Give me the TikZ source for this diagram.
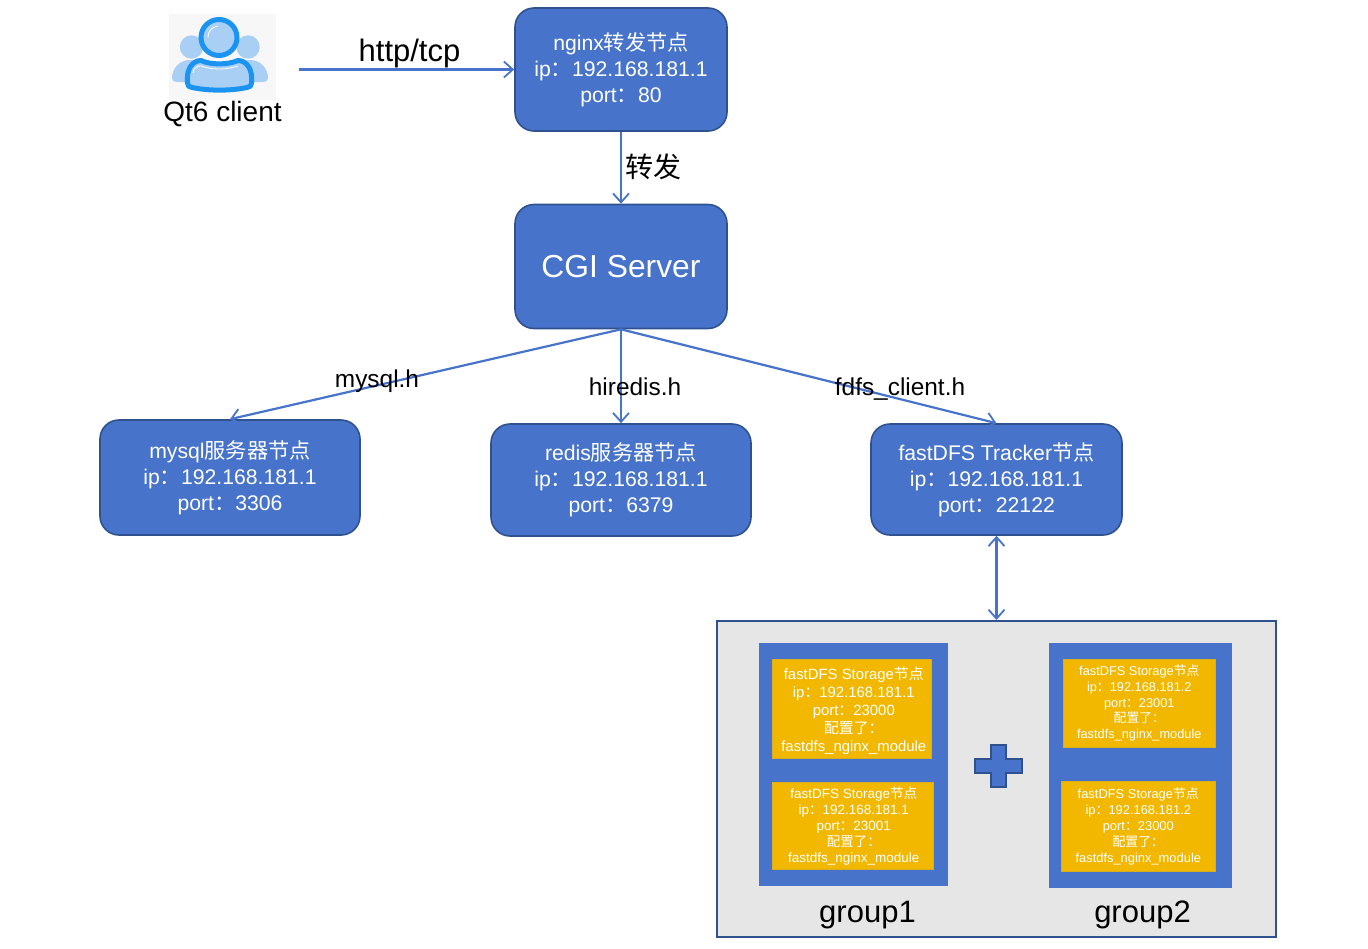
\documentclass[tikz,border=0pt]{standalone}
\usepackage{fontspec}
\setmainfont{Liberation Sans}
\newfontfamily\cjk{Noto Sans CJK SC}
\newcommand\zh[1]{{\cjk #1}}
\usetikzlibrary{arrows.meta}
\definecolor{bluefill}{HTML}{4773CA}
\definecolor{blueline}{HTML}{2F528F}
\definecolor{goldfill}{HTML}{F2B800}
\definecolor{panelgrey}{HTML}{E6E6E6}
\definecolor{iconbg}{HTML}{F7F7F7}
\definecolor{iconlight}{HTML}{A9CFF5}
\definecolor{icondark}{HTML}{1A94F0}
\tikzset{
  x=1pt,y=-1pt,
  server/.style={draw=blueline,fill=bluefill,line width=1.6pt,rounded corners=19pt,text=white,align=center,inner sep=0pt,font=\fontsize{21.2}{26}\selectfont},
  panel/.style={draw=blueline,fill=panelgrey,line width=2pt,inner sep=0pt},
  groupbox/.style={fill=bluefill,inner sep=0pt},
  storage/.style={draw=goldfill!85!bluefill,fill=goldfill,line width=.6pt,text=white,align=center,inner sep=0pt},
  storagetext/.style={text=white,align=center,inner sep=0pt},
  lab/.style={text=black,inner sep=0pt,align=center},
  conn/.style={draw=bluefill,line width=2.2pt,-{Straight Barb[length=9pt,width=16pt,line width=1.8pt]}},
  bothconn/.style={draw=bluefill,line width=2.2pt,{Straight Barb[length=9pt,width=16pt,line width=1.8pt]}-{Straight Barb[length=9pt,width=16pt,line width=1.8pt]}},
}
\begin{document}
\begin{tikzpicture}
\useasboundingbox (0,0) rectangle (1368,948);
% client icon
\fill[iconbg] (169,14) rectangle (276,100);
\fill[iconlight] (191.5,47) circle (11.7);
\fill[iconlight] (248,47) circle (11.7);
\fill[iconlight] (172,78) .. controls (172,68) and (180,60) .. (190,60) .. controls (200,60) and (205,68) .. (205,82) -- (185,82) .. controls (178,82) and (172,83) .. (172,78) -- cycle;
\fill[iconlight] (268,78) .. controls (268,68) and (260,60) .. (250,60) .. controls (240,60) and (235,68) .. (235,82) -- (255,82) .. controls (262,82) and (268,83) .. (268,78) -- cycle;
\draw[icondark,line width=5pt,fill=iconlight] (219,37.5) circle (18);
\draw[white,line width=.8pt] (208,37) .. controls (208,30) and (213,27) .. (218,26);
\draw[icondark,line width=5pt,fill=iconlight,line join=round] (187.5,83) .. controls (186,70) and (192,60.5) .. (201,60.5) .. controls (210,65) and (228,65) .. (238,60.5) .. controls (247,60.5) and (253,70) .. (251.5,83) .. controls (251.5,86) and (250,87) .. (247,87.5) .. controls (230,91) and (209,91) .. (192,87.5) .. controls (189,87) and (187.5,86) .. (187.5,83) -- cycle;
\draw[white,line width=.8pt] (193,73) .. controls (194,68) and (197,65.5) .. (201,66) .. controls (212,70) and (226,70) .. (238,66);
\node[lab,font=\fontsize{28}{32}\selectfont] (client) at (222.5,114) {Qt6 client};
\coordinate (clientout) at (299,69.5);

% server nodes
\node[server,minimum width=212pt,minimum height=123pt] (nginx) at (621,69.5) {nginx\zh{转发节点}\\ip\zh{：}192.168.181.1\\port\zh{：}80};
\node[server,minimum width=212pt,minimum height=124pt,font=\fontsize{31.8}{36}\selectfont] (cgi) at (621,266.5) {CGI Server};
\node[server,minimum width=260pt,minimum height=115pt] (mysql) at (230,477.5) {mysql\zh{服务器节点}\\ip\zh{：}192.168.181.1\\port\zh{：}3306};
\node[server,minimum width=260pt,minimum height=112pt] (redis) at (621,480) {redis\zh{服务器节点}\\ip\zh{：}192.168.181.1\\port\zh{：}6379};
\node[server,minimum width=251pt,minimum height=111pt] (tracker) at (996.5,479.5) {fastDFS Tracker\zh{节点}\\ip\zh{：}192.168.181.1\\port\zh{：}22122};

% storage panel
\node[panel,minimum width=559pt,minimum height=316pt] (pool) at (996.5,779) {};
\node[groupbox,minimum width=189pt,minimum height=243pt] (groupa) at (853.5,764.5) {};
\node[groupbox,minimum width=183pt,minimum height=245pt] (groupb) at (1140.5,765.5) {};
\node[storage,minimum width=159.5pt,minimum height=99pt,label={[storagetext,xshift=2pt,yshift=-2pt,font=\fontsize{14.9}{18}\selectfont]center:{fastDFS Storage\zh{节点}\\ip\zh{：}192.168.181.1\\port\zh{：}23000\\\zh{配置了：}\\fastdfs\_nginx\_module}}] (s1) at (851.8,708.5) {};
\node[storage,minimum width=161.5pt,minimum height=87pt,label={[storagetext,xshift=1pt,yshift=-1pt,font=\fontsize{13.5}{16}\selectfont]center:{fastDFS Storage\zh{节点}\\ip\zh{：}192.168.181.1\\port\zh{：}23001\\\zh{配置了：}\\fastdfs\_nginx\_module}}] (s2) at (852.8,825.5) {};
\node[storage,minimum width=152.5pt,minimum height=88pt,font=\fontsize{12.8}{15.8}\selectfont] (s3) at (1139.3,703) {fastDFS Storage\zh{节点}\\ip\zh{：}192.168.181.2\\port\zh{：}23001\\\zh{配置了：}\\fastdfs\_nginx\_module};
\node[storage,minimum width=154.5pt,minimum height=90pt,font=\fontsize{12.9}{16}\selectfont] (s4) at (1138.3,826) {fastDFS Storage\zh{节点}\\ip\zh{：}192.168.181.2\\port\zh{：}23000\\\zh{配置了：}\\fastdfs\_nginx\_module};
\draw[draw=blueline,fill=bluefill,line width=1.6pt] (991,745) -- (1006,745) -- (1006,759) -- (1022,759) -- (1022,773) -- (1006,773) -- (1006,787) -- (991,787) -- (991,773) -- (975,773) -- (975,759) -- (991,759) -- cycle;
\node[lab,font=\fontsize{31}{36}\selectfont] (g1) at (867.5,915) {group1};
\node[lab,font=\fontsize{31}{36}\selectfont] (g2) at (1142.5,915) {group2};

% connectors
\draw[conn] (clientout) -- (nginx.west);
\draw[conn] (nginx.south) -- (cgi.north);
\draw[conn] (cgi.south) -- (mysql.north);
\draw[conn] (cgi.south) -- (redis.north);
\draw[conn] (cgi.south) -- (tracker.north);
\draw[bothconn] (tracker.south) -- (pool.north);

% connector labels
\node[lab,font=\fontsize{31}{36}\selectfont] (lhttp) at (409.5,53) {http/tcp};
\node[lab,font=\fontsize{28}{32}\cjk] (lfwd) at (653,167) {转发};
\node[lab,font=\fontsize{24.4}{28}\selectfont] (lmysql) at (377,381) {mysql.h};
\node[lab,font=\fontsize{24.4}{28}\selectfont] (lredis) at (635,387) {hiredis.h};
\node[lab,font=\fontsize{24.4}{28}\selectfont] (lfdfs) at (900,389.5) {fdfs\_client.h};
\end{tikzpicture}
\end{document}
